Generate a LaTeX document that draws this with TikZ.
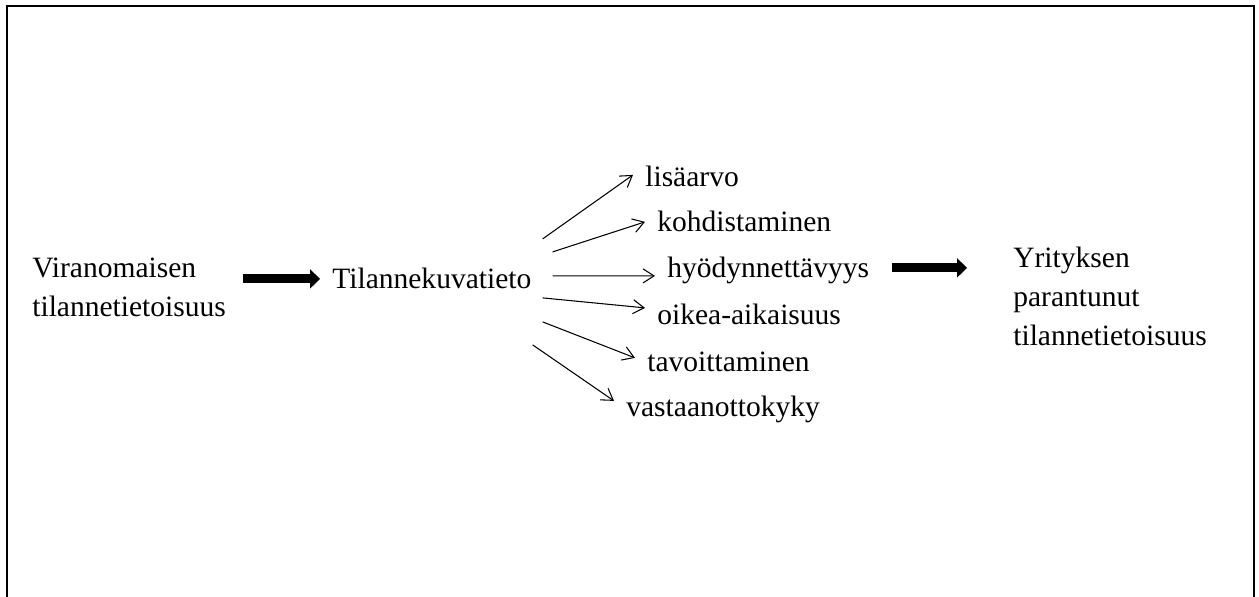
\documentclass[tikz,border=0pt]{standalone}
\usepackage{fontspec}
\setmainfont{Liberation Serif}
\usetikzlibrary{arrows.meta}

\begin{document}
\begin{tikzpicture}[x=0.02cm, y=0.02cm,
  txt/.style = {inner sep=0, font=\fontsize{16.8}{22.2}\selectfont, anchor=base west},
  item/.style = {txt, inner xsep=0.24cm, text height=11.5pt, text depth=0pt},
  bigarrow/.style = {line width=0.18cm, -{Triangle[length=0.2cm, width=0.38cm]}},
  thinarrow/.style = {line width=0.6pt, -{Straight Barb[length=0.22cm, width=0.28cm]}}]
\useasboundingbox (0,0) rectangle (1259,597);
\draw[line width=0.05cm] (7,0) |- (1254,591) -- (1254,0);
\node[txt, align=left] (vir) at (32,280) {Viranomaisen\\tilannetietoisuus};
\node[txt] (tk) at (332,308) {Tilannekuvatieto};
\node[txt, align=left] (yri) at (1013,251) {Yrityksen\\parantunut\\tilannetietoisuus};
\node[item] (l1) at (633,410) {lisäarvo};
\node[item] (l2) at (645,365) {kohdistaminen};
\node[item] (l3) at (655,319) {hyödynnettävyys};
\node[item] (l4) at (645,272) {oikea-aikaisuus};
\node[item] (l5) at (635,225) {tavoittaminen};
\node[item] (l6) at (614,180) {vastaanottokyky};
\draw[bigarrow, shorten <=0.34cm, shorten >=0.24cm] (tk.west -| vir.east) -- (tk.west);
\draw[bigarrow, shorten <=0.22cm, shorten >=0.92cm] (l3.east) -- (l3.east -| yri.west);
\draw[thinarrow] ([shift={(11,40)}]tk.east) -- ([shift={(0,2)}]l1.west);
\draw[thinarrow] ([shift={(21,27)}]tk.east) -- (l2.west);
\draw[thinarrow] ([shift={(21,3)}]tk.east) -- ([shift={(0,-8)}]l3.west);
\draw[thinarrow] ([shift={(11,-19)}]tk.east) -- ([shift={(0,7)}]l4.west);
\draw[thinarrow] ([shift={(11,-43)}]tk.east) -- ([shift={(0,4)}]l5.west);
\draw[thinarrow] ([shift={(1,-66)}]tk.east) -- ([shift={(0,6)}]l6.west);
\end{tikzpicture}
\end{document}
